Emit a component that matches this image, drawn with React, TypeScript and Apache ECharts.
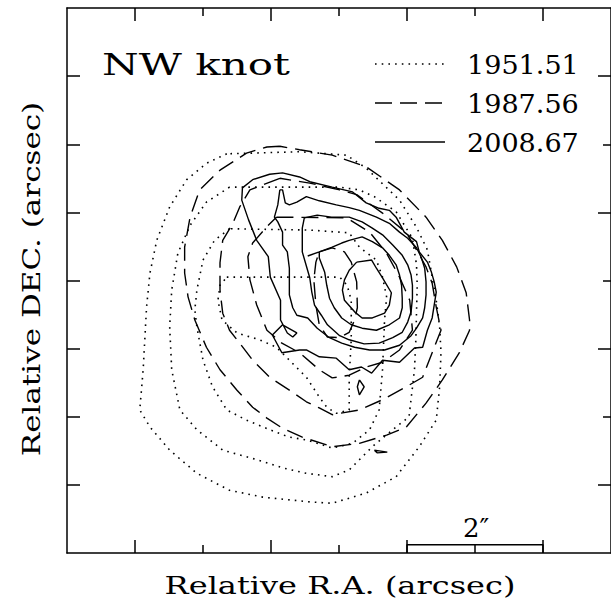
import React, { useEffect, useRef } from "react";
import * as echarts from "echarts";

type Pt = [number, number];

// Epochs (legend) and labels
const EPOCHS = ["1951.51", "1987.56", "2008.67"];
const TITLE = "NW knot";
const X_TITLE = "Relative R.A. (arcsec)";
const Y_TITLE = "Relative DEC. (arcsec)";
const SCALE_LABEL = "2\u2033";

// Axis extents and ticks (arcsec)
const AX_MIN = -4;
const AX_MAX = 4;
const TICKS_ODD = [-3, -1, 1, 3];
const TICKS_EVEN = [-2, 0, 2];
const TICKS_ALL = [-3, -2, -1, 0, 1, 2, 3];

// 1951.51 contours (dotted)
const C1951_A: Pt[] = [[-1.65,1.86],[-1.95,1.72],[-2.24,1.48],[-2.49,1.08],[-2.68,0.59],[-2.78,0.11],[-2.83,-0.39],[-2.88,-1.31],[-2.93,-1.90],[-2.78,-2.15],[-2.49,-2.49],[-2.09,-2.83],[-1.61,-3.08],[-1.12,-3.18],[-0.43,-3.25],[-0.10,-3.27],[0.40,-3.12],[0.84,-2.88],[1.18,-2.44],[1.43,-2.05],[1.48,-1.56],[1.50,-1.06],[1.48,-0.68],[1.43,-0.29],[1.37,0.05],[1.30,0.45],[1.14,0.78],[0.89,1.18],[0.40,1.65],[0.11,1.84],[-0.58,1.89]];
const C1951_B: Pt[] = [[-1.61,1.37],[-1.95,1.15],[-2.19,0.81],[-2.37,0.40],[-2.46,-0.14],[-2.49,-0.68],[-2.46,-1.31],[-2.34,-1.90],[-2.09,-2.19],[-1.71,-2.49],[-1.21,-2.63],[-0.83,-2.75],[-0.48,-2.83],[-0.10,-2.88],[0.15,-2.78],[0.49,-2.44],[0.79,-2.19],[1.03,-2.00],[1.11,-1.31],[1.13,-0.87],[1.14,-0.46],[1.15,-0.07],[1.14,0.23],[1.08,0.62],[0.84,1.01],[0.52,1.23],[0.30,1.33],[0.01,1.37]];
const C1951_C: Pt[] = [[-1.61,0.76],[-1.83,0.59],[-2.00,0.30],[-2.09,-0.14],[-2.12,-0.43],[-2.09,-0.68],[-2.00,-1.17],[-1.86,-1.56],[-1.65,-1.90],[-1.36,-2.05],[-1.02,-2.19],[-0.73,-2.30],[-0.48,-2.34],[-0.10,-2.46],[0.20,-2.39],[0.45,-2.19],[0.59,-1.90],[0.64,-1.31],[0.67,-0.58],[0.70,-0.24],[0.64,0.05],[0.55,0.30],[0.30,0.49],[0.15,0.70],[-0.43,0.74]];
const C1951_D: Pt[] = [[-1.65,0.05],[0.01,0.05],[0.12,-0.07],[0.18,-0.29],[0.18,-0.87],[0.15,-1.42],[0.15,-1.90],[-0.04,-1.95],[-0.18,-1.86],[-0.29,-1.71],[-0.48,-1.42],[-0.73,-1.17],[-0.92,-0.98],[-1.17,-0.87],[-1.50,-0.77],[-1.72,-0.58],[-1.78,-0.29],[-1.75,-0.07]];

// 1987.56 contours (dashed)
const C1987_A: Pt[] = [[-0.87,1.97],[-1.06,1.96],[-1.36,1.87],[-1.75,1.62],[-2.05,1.33],[-2.19,0.93],[-2.27,0.49],[-2.27,0.11],[-2.22,-0.24],[-2.12,-0.58],[-1.95,-0.98],[-1.75,-1.31],[-1.50,-1.61],[-1.27,-1.86],[-1.06,-2.02],[-0.83,-2.17],[-0.54,-2.30],[-0.10,-2.44],[0.30,-2.39],[0.70,-2.27],[0.99,-2.15],[1.28,-1.80],[1.52,-1.46],[1.77,-1.06],[1.92,-0.73],[1.92,-0.58],[1.87,-0.18],[1.73,0.20],[1.52,0.59],[1.28,0.93],[0.89,1.33],[0.40,1.67],[-0.10,1.84],[-0.58,1.92]];
const C1987_B: Pt[] = [[-0.87,1.50],[-1.31,1.33],[-1.46,1.08],[-1.56,0.84],[-1.71,0.59],[-1.75,0.26],[-1.75,-0.14],[-1.71,-0.48],[-1.61,-0.73],[-1.46,-0.92],[-1.27,-1.17],[-1.02,-1.42],[-0.73,-1.61],[-0.48,-1.78],[-0.29,-1.87],[-0.10,-1.97],[0.30,-1.90],[0.64,-1.75],[0.99,-1.56],[1.23,-1.42],[1.37,-1.06],[1.50,-0.73],[1.43,-0.39],[1.37,-0.04],[1.28,0.20],[1.14,0.45],[0.99,0.70],[0.64,0.99],[0.26,1.26],[0.01,1.33],[-0.43,1.43]];
const C1987_C: Pt[] = [[-0.92,0.93],[0.11,0.92],[0.45,0.71],[0.70,0.40],[0.89,0.05],[1.04,-0.29],[1.08,-0.73],[0.89,-1.02],[0.64,-1.20],[0.40,-1.27],[0.15,-1.39],[-0.10,-1.43],[-0.29,-1.31],[-0.58,-1.06],[-0.84,-0.92],[-1.06,-0.73],[-1.21,-0.36],[-1.31,0.01],[-1.34,0.35],[-1.27,0.55],[-1.06,0.79]];
const C1987_D: Pt[] = [[-0.29,0.42],[-0.10,0.48],[0.08,0.42],[0.18,0.27],[0.26,-0.02],[0.27,-0.40],[0.23,-0.58],[0.15,-0.76],[0.01,-0.84],[-0.17,-0.83],[-0.29,-0.65],[-0.34,-0.36],[-0.37,0.01],[-0.34,0.27]];

// 2008.67 contours (solid)
const C2008_A: Pt[] = [[-1.42,1.36],[-1.27,1.48],[-1.02,1.56],[-0.83,1.58],[-0.58,1.52],[-0.43,1.45],[-0.10,1.37],[0.20,1.30],[0.40,1.14],[0.59,1.06],[0.74,1.03],[0.84,0.93],[0.96,0.71],[1.14,0.57],[1.18,0.42],[1.30,0.27],[1.36,0.12],[1.40,-0.02],[1.43,-0.17],[1.40,-0.36],[1.37,-0.55],[1.30,-0.73],[1.23,-0.98],[1.11,-0.99],[0.89,-1.20],[0.64,-1.17],[0.48,-1.36],[0.33,-1.27],[0.15,-1.31],[-0.04,-1.14],[-0.29,-1.12],[-0.48,-1.02],[-0.58,-1.02],[-0.84,-1.06],[-0.98,-0.80],[-0.83,-0.65],[-0.62,-0.77],[-0.68,-0.83],[-0.76,-0.77],[-0.86,-0.58],[-0.86,-0.29],[-1.01,0.05],[-1.04,0.35],[-1.21,0.59],[-1.33,0.89],[-1.43,1.18]];
const C2008_B: Pt[] = [[-0.87,1.33],[-0.90,1.11],[-0.95,0.93],[-0.90,0.86],[-0.83,0.71],[-0.83,0.52],[-0.76,0.42],[-0.73,0.18],[-0.73,0.01],[-0.73,-0.21],[-0.68,-0.40],[-0.62,-0.51],[-0.46,-0.55],[-0.32,-0.70],[-0.14,-0.84],[0.04,-0.92],[0.23,-0.98],[0.45,-1.02],[0.67,-1.02],[0.89,-0.95],[1.06,-0.81],[1.14,-0.70],[1.23,-0.55],[1.26,-0.40],[1.28,-0.21],[1.28,-0.02],[1.26,0.18],[1.21,0.34],[1.14,0.48],[1.01,0.62],[0.89,0.71],[0.74,0.84],[0.55,0.93],[0.30,1.03],[0.15,1.07],[-0.04,1.11],[-0.29,1.17],[-0.48,1.23],[-0.62,1.15],[-0.73,1.11],[-0.79,1.14],[-0.83,1.33]];
const C2008_C: Pt[] = [[-0.51,0.92],[-0.32,0.96],[-0.11,0.93],[0.15,0.93],[0.34,0.86],[0.49,0.77],[0.64,0.67],[0.79,0.52],[0.93,0.37],[1.01,0.23],[1.06,0.08],[1.08,-0.07],[1.08,-0.26],[1.06,-0.46],[1.01,-0.61],[0.93,-0.76],[0.79,-0.84],[0.59,-0.92],[0.37,-0.93],[0.15,-0.87],[0.01,-0.81],[-0.17,-0.65],[-0.26,-0.51],[-0.36,-0.36],[-0.40,-0.17],[-0.43,0.04],[-0.54,0.42],[-0.54,0.77]];
const C2008_D_OPEN: Pt[] = [[-0.46,0.36],[-0.29,0.42],[-0.10,0.49],[0.04,0.55],[0.15,0.59],[0.34,0.64],[0.49,0.57],[0.64,0.48],[0.74,0.37],[0.84,0.23],[0.89,0.08],[0.92,-0.07],[0.93,-0.26],[0.93,-0.40],[0.89,-0.55],[0.74,-0.65],[0.55,-0.73],[0.34,-0.70],[0.18,-0.65],[0.04,-0.55],[-0.07,-0.40],[-0.14,-0.26],[-0.18,-0.07],[-0.21,0.12],[-0.29,0.33],[-0.29,0.42]];
const C2008_E: Pt[] = [[0.26,0.27],[0.48,0.30],[0.55,0.18],[0.64,0.04],[0.77,-0.18],[0.74,-0.36],[0.67,-0.48],[0.49,-0.55],[0.34,-0.55],[0.23,-0.46],[0.08,-0.29],[0.05,-0.14],[0.08,0.01],[0.15,0.15]];
const C2008_F: Pt[] = [[0.30,-1.46],[0.37,-1.56],[0.30,-1.68],[0.27,-1.56]];
const C2008_G: Pt[] = [[0.52,-2.49],[0.71,-2.52],[0.56,-2.53]];

// 2 arcsec scale bar
const SCALE_BAR: Pt[] = [[1, -4], [1, -3.88], [3, -3.88], [3, -4]];

const closed = (p: Pt[]): Pt[] => [...p, p[0]];

const FONT = '"DejaVu Serif", "Liberation Serif", serif';
const INK = "#000";

const STYLE_DOT = { color: INK, width: 1.6, type: [1.6, 5.1] as number[] };
const STYLE_DASH = { color: INK, width: 1.4, type: [17, 8] as number[] };
const STYLE_SOLID = { color: INK, width: 1.4, type: "solid" as const };

function contour(name: string, data: Pt[], lineStyle: any) {
  return {
    type: "line",
    name,
    data,
    xAxisIndex: 0,
    yAxisIndex: 0,
    symbol: "none",
    silent: true,
    lineStyle,
  };
}

function xAx(position: "top" | "bottom", ticks: number[], len: number, showLine: boolean) {
  return {
    type: "value",
    position,
    min: AX_MIN,
    max: AX_MAX,
    axisLine: { show: showLine, onZero: false, lineStyle: { color: INK, width: 1.5 } },
    axisTick: { show: true, inside: true, length: len, customValues: ticks, lineStyle: { color: INK, width: 1.5 } },
    axisLabel: { show: false },
    splitLine: { show: false },
  };
}
function yAx(position: "left" | "right", ticks: number[], len: number, showLine: boolean) {
  return {
    type: "value",
    position,
    min: AX_MIN,
    max: AX_MAX,
    axisLine: { show: showLine, onZero: false, lineStyle: { color: INK, width: 1.5 } },
    axisTick: { show: true, inside: true, length: len, customValues: ticks, lineStyle: { color: INK, width: 1.5 } },
    axisLabel: { show: false },
    splitLine: { show: false },
  };
}

export default function App() {
  const ref = useRef<HTMLDivElement>(null);
  useEffect(() => {
    if (!ref.current) return;
    const chart = echarts.init(ref.current, null, { renderer: "svg" });
    const legendStyles = [STYLE_DOT, STYLE_DASH, STYLE_SOLID];
    const legendY = [64, 103, 142];
    const graphic: any[] = [
      {
        type: "text",
        x: 102,
        y: 65,
        scaleX: 1.4,
        style: { text: TITLE, font: `30px ${FONT}`, fill: INK, align: "left", verticalAlign: "middle" },
      },
      {
        type: "text",
        x: 340,
        y: 585,
        scaleX: 1.28,
        style: { text: X_TITLE, font: `25px ${FONT}`, fill: INK, align: "center", verticalAlign: "middle" },
      },
      {
        type: "text",
        x: 32,
        y: 279,
        rotation: Math.PI / 2,
        scaleX: 1.24,
        style: { text: Y_TITLE, font: `25px ${FONT}`, fill: INK, align: "center", verticalAlign: "middle" },
      },
      {
        type: "text",
        x: 476,
        y: 528,
        style: { text: SCALE_LABEL, font: `26px ${FONT}`, fill: INK, align: "center", verticalAlign: "middle" },
      },
    ];
    EPOCHS.forEach((ep, i) => {
      const s = legendStyles[i];
      graphic.push({
        type: "line",
        shape: { x1: 375, y1: legendY[i], x2: 445, y2: legendY[i] },
        style: { stroke: INK, lineWidth: s.width, lineDash: Array.isArray(s.type) ? s.type : null },
      });
      graphic.push({
        type: "text",
        x: 467,
        y: legendY[i] + 1,
        scaleX: 1.04,
        style: { text: ep, font: `26px ${FONT}`, fill: INK, align: "left", verticalAlign: "middle" },
      });
    });

    const series: any[] = [
      contour(EPOCHS[0], closed(C1951_A), STYLE_DOT),
      contour(EPOCHS[0], closed(C1951_B), STYLE_DOT),
      contour(EPOCHS[0], closed(C1951_C), STYLE_DOT),
      contour(EPOCHS[0], closed(C1951_D), STYLE_DOT),
      contour(EPOCHS[1], closed(C1987_A), STYLE_DASH),
      contour(EPOCHS[1], closed(C1987_B), STYLE_DASH),
      contour(EPOCHS[1], closed(C1987_C), STYLE_DASH),
      contour(EPOCHS[1], closed(C1987_D), STYLE_DASH),
      contour(EPOCHS[2], closed(C2008_A), STYLE_SOLID),
      contour(EPOCHS[2], closed(C2008_B), STYLE_SOLID),
      contour(EPOCHS[2], closed(C2008_C), STYLE_SOLID),
      contour(EPOCHS[2], C2008_D_OPEN, STYLE_SOLID),
      contour(EPOCHS[2], closed(C2008_E), STYLE_SOLID),
      contour(EPOCHS[2], closed(C2008_F), STYLE_SOLID),
      contour(EPOCHS[2], closed(C2008_G), STYLE_SOLID),
      contour("scale", SCALE_BAR, { color: INK, width: 1.5, type: "solid" }),
    ];

    chart.setOption({
      animation: false,
      backgroundColor: "#fff",
      grid: { left: 67, top: 8, width: 545, height: 545, containLabel: false },
      xAxis: [
        xAx("bottom", TICKS_ODD, 13, true),
        xAx("bottom", TICKS_EVEN, 8, false),
        xAx("top", TICKS_ODD, 13, true),
        xAx("top", TICKS_EVEN, 8, false),
      ],
      yAxis: [
        yAx("left", TICKS_ALL, 13, true),
        yAx("right", TICKS_ODD, 13, true),
        yAx("right", TICKS_EVEN, 8, false),
      ],
      series,
      graphic,
    });
    return () => chart.dispose();
  }, []);
  return (
    <div
      ref={ref}
      style={{ position: "fixed", left: 0, top: 0, width: 611, height: 605, background: "#fff" }}
    />
  );
}
